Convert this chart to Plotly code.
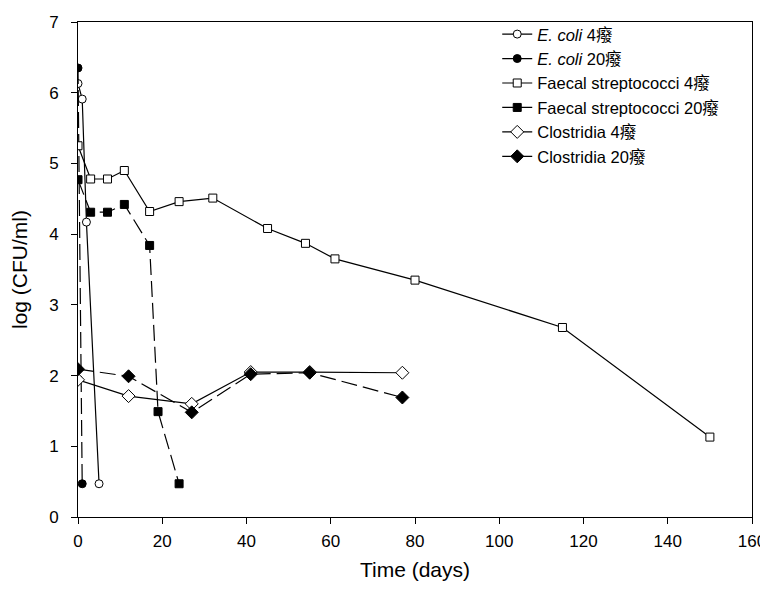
import plotly.graph_objects as go

ecoli4_x = [0, 1, 2, 5]
ecoli4_y = [6.13, 5.91, 4.17, 0.47]
ecoli20_x = [0, 1]
ecoli20_y = [6.35, 0.47]
fs4_x = [0, 3, 7, 11, 17, 24, 32, 45, 54, 61, 80, 115, 150]
fs4_y = [5.25, 4.78, 4.78, 4.90, 4.32, 4.46, 4.51, 4.08, 3.87, 3.65, 3.35, 2.68, 1.13]
fs20_x = [0, 3, 7, 11, 17, 19, 24]
fs20_y = [4.77, 4.31, 4.31, 4.42, 3.84, 1.49, 0.47]
cl4_x = [0, 12, 27, 41, 55, 77]
cl4_y = [1.94, 1.71, 1.60, 2.05, 2.05, 2.04]
cl20_x = [0, 12, 27, 41, 55, 77]
cl20_y = [2.09, 1.99, 1.48, 2.02, 2.04, 1.69]

names = ["<i>E. coli</i> 4癈", "<i>E. coli</i> 20癈", "Faecal streptococci 4癈",
         "Faecal streptococci 20癈", "Clostridia 4癈", "Clostridia 20癈"]

series = [
    (ecoli4_x, ecoli4_y, "circle", "white", "solid", 8),
    (ecoli20_x, ecoli20_y, "circle", "black", "16px,6px", 8),
    (fs4_x, fs4_y, "square", "white", "solid", 8),
    (fs20_x, fs20_y, "square", "black", "16px,6px", 8),
    (cl4_x, cl4_y, "diamond", "white", "solid", 10),
    (cl20_x, cl20_y, "diamond", "black", "16px,6px", 10),
]

fig = go.Figure()
for (xs, ys, sym, fill, dash, sz), nm in zip(series, names):
    mk = dict(symbol=sym, size=sz, color=fill, line=dict(color="black", width=1))
    fig.add_trace(go.Scatter(
        x=xs, y=ys, name=nm, mode="lines+markers", showlegend=False,
        line=dict(color="black", width=1.2, dash=dash), marker=mk,
    ))
    # legend entry drawn with a solid line, as in the original figure
    fig.add_trace(go.Scatter(
        x=[None], y=[None], name=nm, mode="lines+markers",
        line=dict(color="black", width=1.2), marker=mk,
    ))

font_family = "Liberation Sans, Arial, Noto Sans CJK SC, sans-serif"
# page body has an 8px default margin, so the figure is sized to fit the 768x599 window
fig.update_layout(
    width=760, height=591,
    paper_bgcolor="white", plot_bgcolor="white",
    margin=dict(l=70, r=16, t=14, b=82, autoexpand=False),
    font=dict(family=font_family, size=17, color="black"),
    showlegend=True,
    legend=dict(x=0.622, y=0.985, xanchor="left", yanchor="top", yref="container",
                bgcolor="rgba(0,0,0,0)", font=dict(size=16.5), tracegroupgap=0),
    xaxis=dict(range=[0, 160], tickvals=[0, 20, 40, 60, 80, 100, 120, 140, 160],
               ticks="outside", ticklen=6, tickcolor="black", showgrid=False, zeroline=False,
               showline=True, linecolor="black", linewidth=1, mirror=True,
               ticklabelstandoff=3, automargin=False,
               title=dict(text="Time (days)", font=dict(size=21), standoff=11),
               tickfont=dict(size=17)),
    yaxis=dict(range=[0, 7], tickvals=[0, 1, 2, 3, 4, 5, 6, 7],
               ticks="outside", ticklen=6, tickcolor="black", showgrid=False, zeroline=False,
               showline=True, linecolor="black", linewidth=1, mirror=True,
               ticklabelstandoff=9, automargin=False,
               title=dict(text="log (CFU/ml)", font=dict(size=21), standoff=24),
               tickfont=dict(size=17)),
)
fig.write_html("out.html")
